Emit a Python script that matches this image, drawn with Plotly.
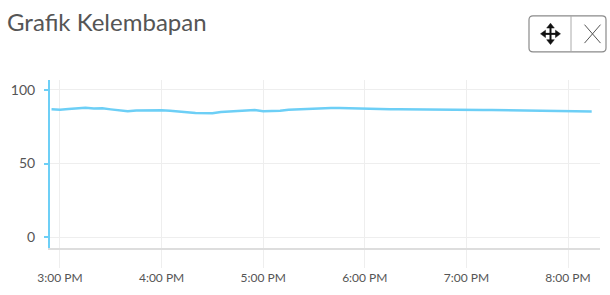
import plotly.graph_objects as go

# ---- data ----
times = [
    "14:55", "15:00", "15:05", "15:10", "15:15", "15:20", "15:25", "15:30", "15:35", "15:40",
    "15:45", "15:50", "15:55", "16:00", "16:05", "16:10", "16:15", "16:20", "16:25", "16:30",
    "16:35", "16:40", "16:45", "16:50", "16:55", "17:00", "17:05", "17:10", "17:15", "17:20",
    "17:25", "17:30", "17:35", "17:40", "17:45", "17:50", "17:55", "18:00", "18:05", "18:10",
    "18:15", "18:20", "18:25", "18:30", "18:35", "18:40", "18:45", "18:50", "18:55", "19:00",
    "19:05", "19:10", "19:15", "19:20", "19:25", "19:30", "19:35", "19:40", "19:45", "19:50",
    "19:55", "20:00", "20:05", "20:10", "20:14",
]
humidity = [
    86.8, 86.5, 86.9, 87.2, 87.8, 87.3, 87.4, 86.7, 86.1, 85.5,
    85.9, 86.0, 86.4, 86.1, 85.7, 85.0, 84.8, 84.2, 84.4, 84.1,
    84.9, 85.2, 86.0, 85.8, 86.2, 85.5, 85.4, 85.7, 86.5, 86.8,
    87.3, 87.6, 87.7, 87.7, 87.6, 87.4, 87.2, 87.0, 86.9, 86.9,
    86.8, 86.8, 86.7, 86.7, 86.6, 86.6, 86.5, 86.5, 86.4, 86.4,
    86.3, 86.2, 86.2, 86.1, 86.0, 85.9, 85.8, 85.8, 85.7, 85.6,
    85.5, 85.5, 85.4, 85.3, 85.3,
]
y_ticks = [0, 50, 100]
title_text = "Grafik Kelembapan"

DAY = "2020-01-01 "
x_vals = [DAY + t for t in times]

# ---- geometry helpers (plot area in pixels) ----
W, H = 610, 295
L, R, T, B = 50, 600, 80, 253


def px(x):
    return (x - L) / (R - L)


def py(y):
    return (B - y) / (B - T)


def P(x, y):
    return f"{px(x):.5f},{py(y):.5f}"


BLUE = "#6dcff6"
GREY_TXT = "#555555"
FONT = "Lato"

fig = go.Figure()
fig.add_trace(go.Scatter(
    x=x_vals, y=humidity, mode="lines",
    line=dict(color=BLUE, width=2.5),
    hoverinfo="skip", showlegend=False,
))

shapes = []
# button group box with rounded corners
bl, br, bt, bb, r = 529, 606, 14, 51, 4
box_path = (
    f"M{P(bl + r, bt)} L{P(br - r, bt)} Q{P(br, bt)} {P(br, bt + r)} "
    f"L{P(br, bb - r)} Q{P(br, bb)} {P(br - r, bb)} "
    f"L{P(bl + r, bb)} Q{P(bl, bb)} {P(bl, bb - r)} "
    f"L{P(bl, bt + r)} Q{P(bl, bt)} {P(bl + r, bt)} Z"
)
shapes.append(dict(type="path", xref="paper", yref="paper", path=box_path,
                   line=dict(color="#8a8a8a", width=1.2), fillcolor="rgba(0,0,0,0)"))
shapes.append(dict(type="line", xref="paper", yref="paper",
                   x0=px(571), x1=px(571), y0=py(bt), y1=py(bb),
                   line=dict(color="#aaaaaa", width=1)))
# move icon
cx, cy = 550.5, 32.5
shapes.append(dict(type="line", xref="paper", yref="paper",
                   x0=px(cx), x1=px(cx), y0=py(cy - 8), y1=py(cy + 8),
                   line=dict(color="#111111", width=2)))
shapes.append(dict(type="line", xref="paper", yref="paper",
                   x0=px(cx - 8), x1=px(cx + 8), y0=py(cy), y1=py(cy),
                   line=dict(color="#111111", width=2)))
for tri in [
    [(cx, cy - 11), (cx - 3.8, cy - 6), (cx + 3.8, cy - 6)],
    [(cx, cy + 11), (cx - 3.8, cy + 6), (cx + 3.8, cy + 6)],
    [(cx - 10, cy), (cx - 5, cy - 3.8), (cx - 5, cy + 3.8)],
    [(cx + 10, cy), (cx + 5, cy - 3.8), (cx + 5, cy + 3.8)],
]:
    path = f"M{P(*tri[0])} L{P(*tri[1])} L{P(*tri[2])} Z"
    shapes.append(dict(type="path", xref="paper", yref="paper", path=path,
                       line=dict(color="#111111", width=0.5), fillcolor="#111111"))
# close X
shapes.append(dict(type="line", xref="paper", yref="paper",
                   x0=px(584.5), y0=py(23), x1=px(600.5), y1=py(42),
                   line=dict(color="#555555", width=1)))
shapes.append(dict(type="line", xref="paper", yref="paper",
                   x0=px(600.5), y0=py(23), x1=px(584.5), y1=py(42),
                   line=dict(color="#555555", width=1)))

fig.update_layout(
    width=W, height=H,
    margin=dict(l=L, r=W - R, t=T, b=H - B, pad=0),
    paper_bgcolor="white", plot_bgcolor="white",
    title=dict(text=title_text, x=7 / W, xanchor="left", xref="container",
               y=1 - 23 / H, yanchor="middle", yref="container",
               font=dict(family=FONT, size=24, color=GREY_TXT)),
    font=dict(family=FONT, color=GREY_TXT),
    shapes=shapes,
    xaxis=dict(
        type="date",
        range=[DAY + "14:54:06", DAY + "20:18:54"],
        dtick=3600000, tick0=DAY + "15:00",
        tickformat="%-I:%M %p",
        showgrid=True, gridcolor="#eeeeee", gridwidth=1,
        showline=True, linecolor="#dddddd", linewidth=1.5,
        ticks="outside", ticklen=18, tickcolor="#eeeeee", tickwidth=1,
        tickfont=dict(family=FONT, size=12, color=GREY_TXT),
        zeroline=False, fixedrange=True,
    ),
    yaxis=dict(
        range=[-7.2, 106.6],
        tickvals=y_ticks,
        showgrid=True, gridcolor="#eeeeee", gridwidth=1,
        showline=True, linecolor=BLUE, linewidth=2,
        ticks="outside", ticklen=4, tickcolor=BLUE, tickwidth=1.5,
        tickfont=dict(family=FONT, size=14, color=GREY_TXT),
        ticklabelstandoff=6,
        zeroline=False, fixedrange=True,
    ),
)

fig.write_html(
    "out.html",
    config={"displayModeBar": False},
    post_script="document.body.style.margin='0';document.body.style.overflow='hidden';",
)
